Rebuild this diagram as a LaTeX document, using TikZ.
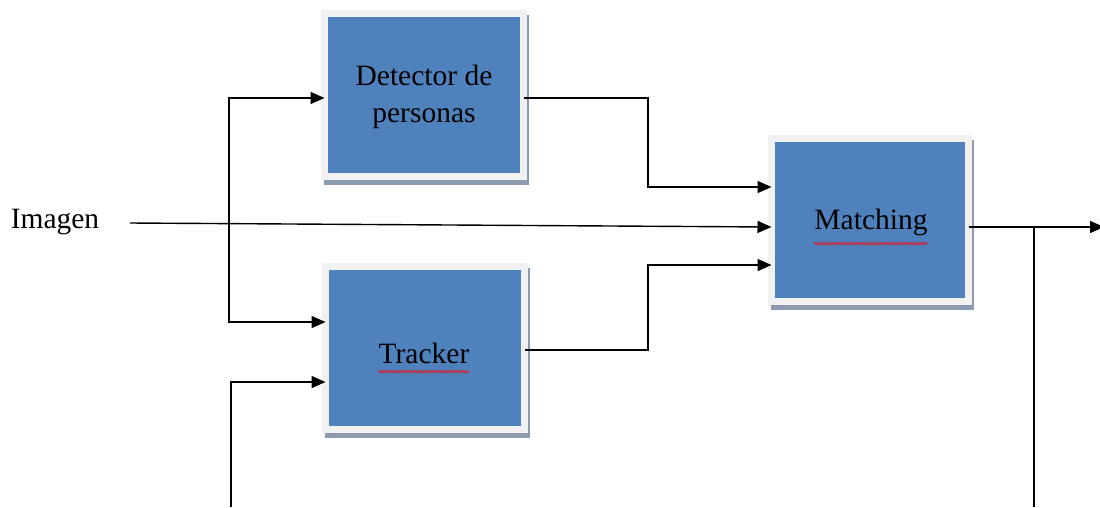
\documentclass[tikz,border=0pt]{standalone}
\usepackage{fontspec}
\setmainfont{Liberation Serif}
\usetikzlibrary{arrows.meta,calc,decorations.pathmorphing}
\definecolor{blockblue}{HTML}{4F81BD}
\definecolor{blockframe}{HTML}{F1F1F1}
\definecolor{blockshadow}{HTML}{8C9BB0}
\begin{document}
\begin{tikzpicture}[x=1pt,y=-1pt,
  block/.style={rectangle, inner sep=0pt, outer sep=0pt,
    minimum width=199pt, minimum height=163pt,
    fill=blockblue, draw=blockframe, line width=6.5pt,
    preaction={draw=blockshadow, fill=blockshadow, line width=6.5pt,
      transform canvas={shift={(2.5pt,-5pt)}}},
    font=\fontsize{29.5}{37}\selectfont, align=center, text=black},
  label/.style={font=\fontsize{29.5}{37}\selectfont, text=black, inner sep=0pt},
  wire/.style={line width=1.4pt, black},
  flow/.style={wire, -{Triangle[length=14pt,width=12pt]}},
  spell/.style={red, line width=0.6pt,
    decorate, decoration={zigzag, amplitude=1.3pt, segment length=3pt}}]
  \useasboundingbox (0,0) rectangle (1100,507);

  % processing blocks
  \node[block] (det) at (424,95) {};
  \node[block] (trk) at (425,348) {};
  \node[block, minimum width=197pt] (mat) at (870,220) {};
  \node[label, align=center] (dettxt) at (424,97) {Detector de\\personas};
  \node[label] (trktxt) at (424,353) {Tracker};
  \node[label] (mattxt) at (871,222) {Matching};

  % spell-check marks under the block names
  \draw[spell] ($(trktxt.south west)+(0,8)$) -- ($(trktxt.south east)+(0,8)$);
  \draw[spell] ($(mattxt.south west)+(0,8)$) -- ($(mattxt.south east)+(0,8)$);

  % input image
  \node[label] (img) at (55,222) {Imagen};
  \coordinate (imgout) at (130,223);
  \coordinate (split) at (229,224);
  \draw[flow] (imgout) -- ($(mat.west)+(0,7)$);
  \draw[flow] (split) |- ($(det.west)+(0,3)$);
  \draw[flow] (split) |- ($(trk.west)+(0,-26)$);

  % block outputs into the matcher
  \draw[flow] ($(det.east)+(0,3)$) -| (648,140) |- ($(mat.west)+(0,-33)$);
  \draw[flow] ($(trk.east)+(0,2)$) -| (648,300) |- ($(mat.west)+(0,45)$);

  % result and feedback to the tracker
  \coordinate (result) at (1104,227);
  \coordinate (tap) at (1034,227);
  \coordinate (fbdown) at (1034,507);
  \coordinate (fbup) at (231,507);
  \draw[flow] ($(mat.east)+(0,7)$) -- (result);
  \draw[wire] (tap) -- (fbdown);
  \draw[flow] (fbup) |- ($(trk.west)+(0,34)$);
\end{tikzpicture}
\end{document}
